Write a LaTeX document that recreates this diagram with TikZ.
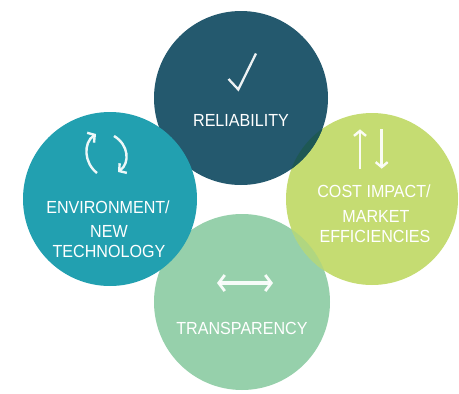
\documentclass[tikz,border=0pt]{standalone}
\usepackage{fontspec}
\setmainfont{Liberation Sans}[FakeStretch=0.92]
\usetikzlibrary{arrows.meta}
\definecolor{cdark}{RGB}{36,89,110}
\definecolor{cteal}{RGB}{34,160,176}
\definecolor{clime}{RGB}{197,220,114}
\definecolor{cmint}{RGB}{150,208,171}
\definecolor{cdarklime}{RGB}{30,88,84}
\definecolor{cmintlime}{RGB}{176,214,128}
\begin{document}
\begin{tikzpicture}[x=1pt,y=-1pt,
  bubble/.style={circle, draw=none, inner sep=0pt},
  lbl/.style={text=white, anchor=base, inner sep=0pt, font=\fontsize{17.5}{20}\selectfont},
  icon/.style={draw=white, draw opacity=0.92, line width=2.6pt, line cap=butt},
  tip/.style={-{Straight Barb[length=5pt,width=12pt,line width=2.4pt]}}
]
\useasboundingbox (0,0) rectangle (459,394);
% circles
\node[bubble, fill=cmint, minimum size=176pt] (bot) at (242,302) {};
\node[bubble, fill=clime, minimum size=172pt] (rgt) at (372,199) {};
\node[bubble, fill=cdark, minimum size=174pt] (top) at (241,98) {};
% overlaps
\begin{scope}
  \clip (top.center) circle (87pt);
  \fill[cdarklime] (rgt.center) circle (86pt);
\end{scope}
\begin{scope}
  \clip (bot.center) circle (88pt);
  \fill[cmintlime] (rgt.center) circle (86pt);
\end{scope}
\node[bubble, fill=cteal, minimum size=174pt] (lft) at (110,199) {};
% labels
\node[lbl] (t1) at (241,126.7) {RELIABILITY};
\node[lbl] (l1) at (108,213.3) {ENVIRONMENT/};
\node[lbl] (l2) at (109,237.7) {NEW};
\node[lbl] (l3) at (109,257.7) {TECHNOLOGY};
\node[lbl] (r1) at (374,197) {COST IMPACT/};
\node[lbl] (r2) at (376,222) {MARKET};
\node[lbl] (r3) at (375,242) {EFFICIENCIES};
\node[lbl] (b1) at (242,334) {TRANSPARENCY};
% icons
\draw[icon, line width=2.3pt, line join=miter] (228.5,79) -- (238.3,89.5) -- (256,53.5);
\draw[icon, line width=2.4pt, tip] (97,173) .. controls (84,163) and (83,143) .. (96,134);
\draw[icon, line width=2.4pt, tip] (114,136) .. controls (129,145) and (130,163) .. (118,172);
\draw[icon, tip] (360,168.7) -- (360,129.3);
\draw[icon, tip] (381.7,129.3) -- (381.7,168.7);
\draw[icon, line width=4.4pt, {Straight Barb[length=6pt,width=16pt,line width=2.8pt]}-{Straight Barb[length=6pt,width=16pt,line width=2.8pt]}] (217,283) -- (273,283);
\end{tikzpicture}
\end{document}
